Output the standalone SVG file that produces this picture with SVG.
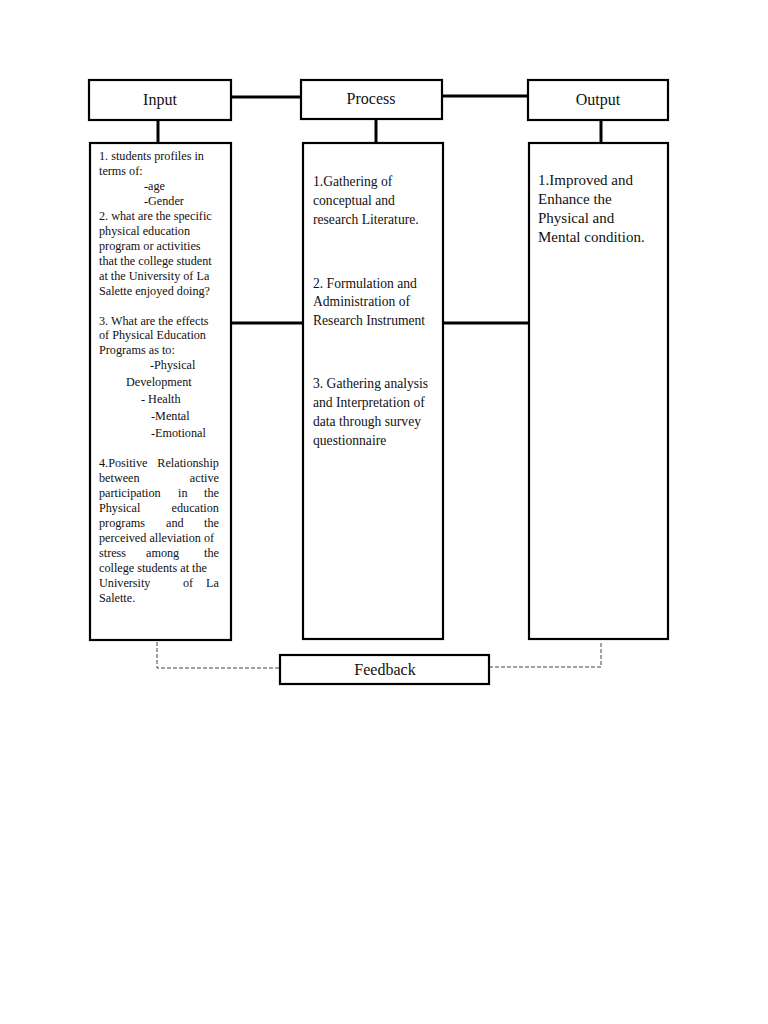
<svg xmlns="http://www.w3.org/2000/svg" width="768" height="1024" viewBox="0 0 768 1024">
<style>
.box{fill:#fff;stroke:#000;stroke-width:2.2}
.conn{stroke:#000;stroke-width:3;fill:none}
.dash{stroke:#444;stroke-width:1;stroke-dasharray:4 2;fill:none}
.hdr{font-family:"Liberation Serif",serif;font-size:16px;fill:#111;text-anchor:middle}
.sm{font-family:"Liberation Serif",serif;font-size:12.2px;fill:#111}
.md{font-family:"Liberation Serif",serif;font-size:13.6px;fill:#111}
.out{font-family:"Liberation Serif",serif;font-size:15px;fill:#111}
</style>
<rect width="768" height="1024" fill="#fff"/>
<g id="connectors">
<line class="conn" x1="231" y1="97" x2="301" y2="97"/>
<line class="conn" x1="442" y1="96" x2="528" y2="96"/>
<line class="conn" x1="158" y1="120" x2="158" y2="143"/>
<line class="conn" x1="376" y1="119" x2="376" y2="143"/>
<line class="conn" x1="601" y1="120" x2="601" y2="143"/>
<line class="conn" x1="231" y1="323" x2="303" y2="323"/>
<line class="conn" x1="443" y1="323" x2="529" y2="323"/>
<polyline class="dash" points="157,642 157,668 280,668"/>
<polyline class="dash" points="489,667 601,667 601,641"/>
</g>
<g id="input-header">
<rect class="box" x="89" y="80" width="142" height="40"/>
<text class="hdr" x="160" y="105">Input</text>
</g>
<g id="process-header">
<rect class="box" x="301" y="80" width="141" height="39"/>
<text class="hdr" x="371" y="104">Process</text>
</g>
<g id="output-header">
<rect class="box" x="528" y="80" width="140" height="40"/>
<text class="hdr" x="598" y="105">Output</text>
</g>
<g id="input-body">
<rect class="box" x="90" y="143" width="141" height="497"/>
<text class="sm">
<tspan x="99" y="160">1. students profiles in</tspan>
<tspan x="99" y="175">terms of:</tspan>
<tspan x="144" y="190">-age</tspan>
<tspan x="144" y="205">-Gender</tspan>
<tspan x="99" y="220">2. what are the specific</tspan>
<tspan x="99" y="235">physical education</tspan>
<tspan x="99" y="250">program or activities</tspan>
<tspan x="99" y="265">that the college student</tspan>
<tspan x="99" y="280">at the University of La</tspan>
<tspan x="99" y="295">Salette enjoyed doing?</tspan>
<tspan x="99" y="325">3. What are the effects</tspan>
<tspan x="99" y="339">of Physical Education</tspan>
<tspan x="99" y="354">Programs as to:</tspan>
<tspan x="150" y="369">-Physical</tspan>
<tspan x="126" y="386">Development</tspan>
<tspan x="141" y="403">- Health</tspan>
<tspan x="151" y="420">-Mental</tspan>
<tspan x="151" y="437">-Emotional</tspan>
<tspan x="99" y="467">4.Positive</tspan><tspan x="222" y="467" text-anchor="end">Relationship</tspan>
<tspan x="99" y="482">between</tspan><tspan x="222" y="482" text-anchor="end">active</tspan>
<tspan x="99" y="497">participation</tspan><tspan x="178" y="497">in</tspan><tspan x="222" y="497" text-anchor="end">the</tspan>
<tspan x="99" y="512">Physical</tspan><tspan x="222" y="512" text-anchor="end">education</tspan>
<tspan x="99" y="527">programs</tspan><tspan x="166" y="527">and</tspan><tspan x="222" y="527" text-anchor="end">the</tspan>
<tspan x="99" y="542">perceived alleviation of</tspan>
<tspan x="99" y="557">stress</tspan><tspan x="146" y="557">among</tspan><tspan x="222" y="557" text-anchor="end">the</tspan>
<tspan x="99" y="572">college students at the</tspan>
<tspan x="99" y="587">University</tspan><tspan x="183" y="587">of</tspan><tspan x="222" y="587" text-anchor="end">La</tspan>
<tspan x="99" y="602">Salette.</tspan>
</text>
</g>
<g id="process-body">
<rect class="box" x="303" y="143" width="140" height="496"/>
<text class="md">
<tspan x="313" y="186">1.Gathering of</tspan>
<tspan x="313" y="205">conceptual and</tspan>
<tspan x="313" y="224">research Literature.</tspan>
<tspan x="313" y="288">2. Formulation and</tspan>
<tspan x="313" y="306">Administration of</tspan>
<tspan x="313" y="325">Research Instrument</tspan>
<tspan x="313" y="388">3. Gathering analysis</tspan>
<tspan x="313" y="407">and Interpretation of</tspan>
<tspan x="313" y="426">data through survey</tspan>
<tspan x="313" y="445">questionnaire</tspan>
</text>
</g>
<g id="output-body">
<rect class="box" x="529" y="143" width="139" height="496"/>
<text class="out">
<tspan x="538" y="185">1.Improved and</tspan>
<tspan x="538" y="204">Enhance the</tspan>
<tspan x="538" y="223">Physical and</tspan>
<tspan x="538" y="242">Mental condition.</tspan>
</text>
</g>
<g id="feedback">
<rect class="box" x="280" y="655" width="209" height="29"/>
<text class="hdr" x="385" y="675">Feedback</text>
</g>
</svg>
